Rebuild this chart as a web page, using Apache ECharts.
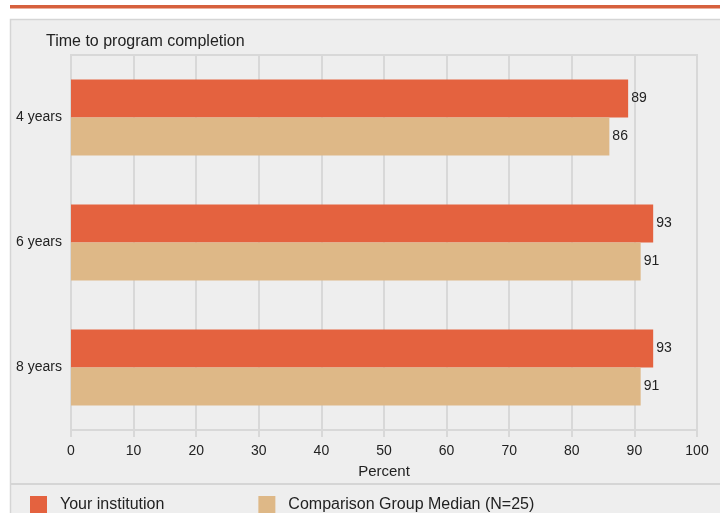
<!DOCTYPE html>
<html>
<head>
<meta charset="utf-8">
<script src="https://cdn.jsdelivr.net/npm/echarts@6/dist/echarts.min.js"></script>
<style>html,body{margin:0;padding:0;background:#fff;}#c{width:720px;height:513px;}</style>
</head>
<body>
<div id="c"></div>
<script>
const categories = ['4 years', '6 years', '8 years'];
const seriesNames = ['Your institution', 'Comparison Group Median (N=25)'];
const yourInstitution = [89, 93, 93];
const comparisonMedian = [86, 91, 91];
const xTicks = [0, 10, 20, 30, 40, 50, 60, 70, 80, 90, 100];

const FONT = 'Liberation Sans, Arial, sans-serif';
const chart = echarts.init(document.getElementById('c'), null, {renderer: 'canvas'});
chart.setOption({
  animation: false,
  backgroundColor: '#ffffff',
  graphic: [
    {type: 'rect', z: -10, shape: {x: 10, y: 5, width: 720, height: 3.5}, style: {fill: '#D6603D'}},
    {type: 'rect', z: -10, shape: {x: 10.5, y: 19.5, width: 720, height: 520}, style: {fill: '#EEEEEE', stroke: '#D5D5D5', lineWidth: 1.5}},
    {type: 'line', z: -9, shape: {x1: 11, y1: 484, x2: 720, y2: 484}, style: {stroke: '#D5D5D5', lineWidth: 2}}
  ],
  title: {
    text: 'Time to program completion',
    left: 41, top: 29,
    textStyle: {fontFamily: FONT, fontSize: 16, fontWeight: 'normal', color: '#222'}
  },
  legend: {
    data: seriesNames,
    left: 25, top: 491,
    itemWidth: 17, itemHeight: 17, itemGap: 94,
    icon: 'rect',
    textStyle: {fontFamily: FONT, fontSize: 16, color: '#222', padding: [0, 0, 0, 8]}
  },
  grid: {
    left: 71, right: 23, top: 55, bottom: 83,
    show: true, borderColor: '#D8D8D8', borderWidth: 2, backgroundColor: 'transparent'
  },
  xAxis: {
    type: 'value', min: xTicks[0], max: xTicks[xTicks.length - 1], interval: 10,
    name: 'Percent', nameLocation: 'middle', nameGap: 34,
    nameTextStyle: {fontFamily: FONT, fontSize: 15, color: '#222'},
    axisLine: {show: true, lineStyle: {color: '#D8D8D8', width: 2}},
    axisTick: {show: true, length: 7, lineStyle: {color: '#D8D8D8', width: 2}},
    axisLabel: {fontFamily: FONT, fontSize: 14, color: '#222', margin: 14},
    splitLine: {show: true, lineStyle: {color: '#D8D8D8', width: 2}}
  },
  yAxis: {
    type: 'category', data: categories, inverse: true,
    axisLine: {show: false}, axisTick: {show: false},
    axisLabel: {fontFamily: FONT, fontSize: 14, color: '#222', margin: 9},
    splitLine: {show: false}
  },
  series: [
    {
      name: seriesNames[0], type: 'bar', data: yourInstitution,
      barWidth: 38, barGap: '0%',
      itemStyle: {color: '#E4623F'},
      label: {show: true, position: 'right', distance: 3, fontFamily: FONT, fontSize: 14, color: '#222'}
    },
    {
      name: seriesNames[1], type: 'bar', data: comparisonMedian,
      barWidth: 38, barGap: '0%',
      itemStyle: {color: '#DEB887'},
      label: {show: true, position: 'right', distance: 3, fontFamily: FONT, fontSize: 14, color: '#222'}
    }
  ]
});
</script>
</body>
</html>
